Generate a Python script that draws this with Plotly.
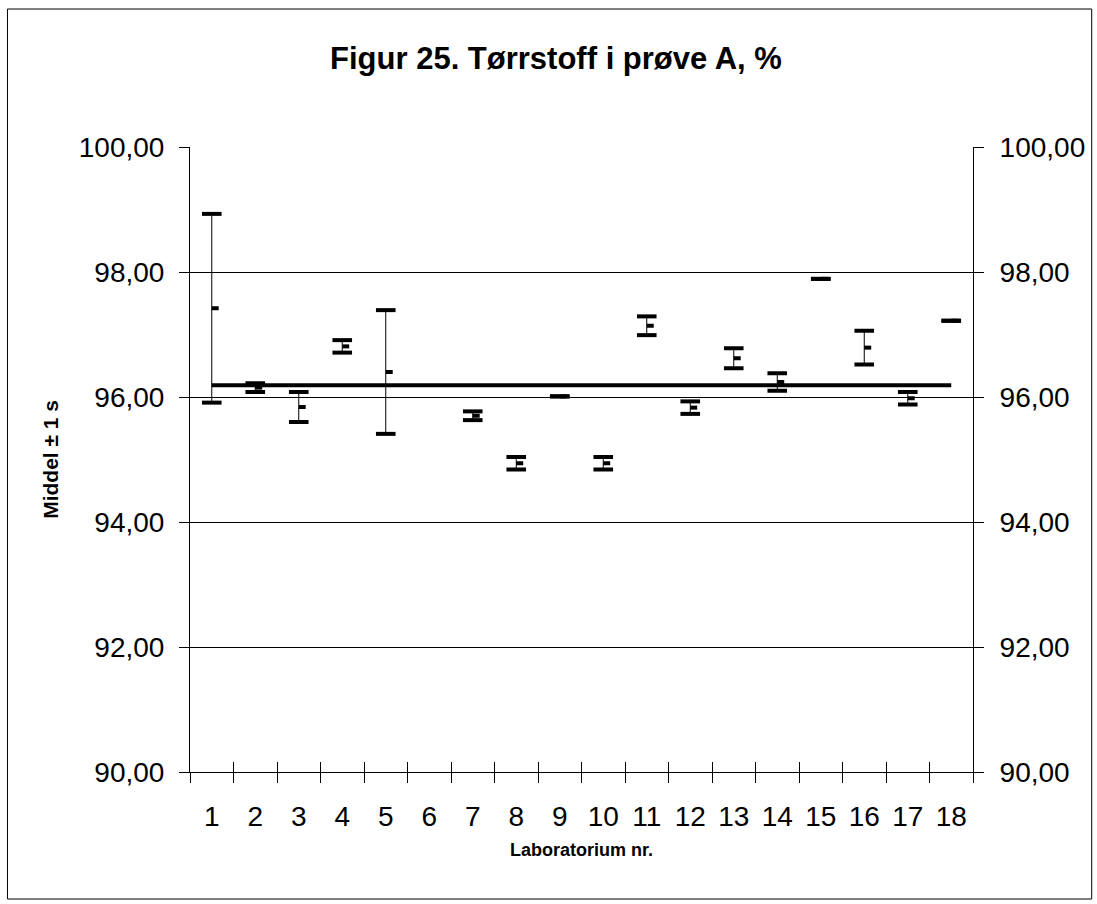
import numpy as np
import plotly.graph_objects as go

# ---- data ----
labs = list(range(1, 19))
tick_labels = [str(i) for i in labs]
means = [97.42, 96.15, 95.84, 96.81, 96.40, None, 95.70, 94.94, 96.01,
         94.94, 97.14, 95.83, 96.62, 96.24, 97.89, 96.79, 95.98, 97.22]
sds = [1.51, 0.07, 0.24, 0.10, 0.99, None, 0.07, 0.10, 0.0,
       0.10, 0.15, 0.10, 0.16, 0.14, 0.0, 0.27, 0.10, 0.0]
grand_mean = 96.19
y_ticks = [90, 92, 94, 96, 98, 100]
y_tick_text = ["90,00", "92,00", "94,00", "96,00", "98,00", "100,00"]

m = np.array([np.nan if v is None else v for v in means], dtype=float)
s = np.array([np.nan if v is None else v for v in sds], dtype=float)
x = np.array(labs, dtype=float)

FONT = "Liberation Sans, Arial, sans-serif"
W, H = 1097, 904
L, R, T, B = 190, 122, 147, 132
PW, PH = W - L - R, H - T - B

fig = go.Figure()

# vertical error lines (thin)
fig.add_trace(go.Scatter(
    x=x, y=m, mode="markers", marker=dict(size=1, color="rgba(0,0,0,0)"),
    error_y=dict(type="data", array=s, visible=True, color="black",
                 thickness=1, width=0),
    showlegend=False, hoverinfo="skip"))

# caps (thick)
for yy in (m + s, m - s):
    fig.add_trace(go.Scatter(
        x=x, y=yy, mode="markers",
        marker=dict(symbol="line-ew", size=14, line=dict(width=4, color="black")),
        showlegend=False, hoverinfo="skip"))

# mean marker: short dash to the right of the centre
fig.add_trace(go.Scatter(
    x=x, y=m, mode="markers", marker=dict(size=1, color="rgba(0,0,0,0)"),
    error_x=dict(type="data", symmetric=False, array=[0.16] * len(labs),
                 arrayminus=[0] * len(labs), visible=True, color="black",
                 thickness=4, width=0),
    showlegend=False, hoverinfo="skip"))

# grand mean line
fig.add_trace(go.Scatter(
    x=[labs[0], labs[-1]], y=[grand_mean, grand_mean], mode="lines",
    line=dict(color="black", width=4), showlegend=False, hoverinfo="skip"))

# invisible helpers for extra axes
fig.add_trace(go.Scatter(x=[labs[0]], y=[grand_mean], xaxis="x2", yaxis="y",
                         mode="markers", marker=dict(opacity=0), showlegend=False, hoverinfo="skip"))
fig.add_trace(go.Scatter(x=[labs[0]], y=[grand_mean], xaxis="x3", yaxis="y",
                         mode="markers", marker=dict(opacity=0), showlegend=False, hoverinfo="skip"))
fig.add_trace(go.Scatter(x=[labs[0]], y=[grand_mean], xaxis="x", yaxis="y2",
                         mode="markers", marker=dict(opacity=0), showlegend=False, hoverinfo="skip"))

xr = [labs[0] - 0.5, labs[-1] + 0.5]
yr = [y_ticks[0], y_ticks[-1]]
tickfont = dict(size=28, family=FONT, color="black")

fig.update_layout(
    width=W, height=H,
    margin=dict(l=L, r=R, t=T, b=B),
    paper_bgcolor="white", plot_bgcolor="white",
    font=dict(family=FONT, color="black"),
    title=dict(text="<b>Figur 25. Tørrstoff i prøve A, %</b>",
               x=556 / W, xanchor="center", y=1 - 58 / H, yanchor="middle",
               font=dict(size=31, family=FONT, color="black")),
    xaxis=dict(range=xr, tickmode="array", tickvals=labs, ticktext=tick_labels,
               ticks="", showgrid=False, zeroline=False,
               showline=True, linecolor="black", linewidth=1,
               tickfont=tickfont, ticklabelstandoff=19),
    xaxis2=dict(range=xr, overlaying="x", anchor="y", side="bottom",
                tickmode="linear", tick0=0.5, dtick=1, ticks="outside",
                ticklen=10, tickcolor="black", showticklabels=False,
                showgrid=False, zeroline=False, showline=False),
    xaxis3=dict(range=xr, overlaying="x", anchor="y", side="bottom",
                tickmode="linear", tick0=0.5, dtick=1, ticks="inside",
                ticklen=10, tickcolor="black", showticklabels=False,
                showgrid=False, zeroline=False, showline=False),
    yaxis=dict(range=yr, tickmode="array", tickvals=y_ticks, ticktext=y_tick_text,
               ticks="outside", ticklen=10, tickcolor="black",
               showgrid=True, gridcolor="black", gridwidth=1, zeroline=False,
               showline=True, linecolor="black", linewidth=1,
               tickfont=tickfont, ticklabelstandoff=9),
    yaxis2=dict(range=yr, overlaying="y", side="right", anchor="x",
                tickmode="array", tickvals=y_ticks, ticktext=y_tick_text,
                ticks="outside", ticklen=10, tickcolor="black",
                showgrid=False, zeroline=False,
                showline=True, linecolor="black", linewidth=1,
                tickfont=tickfont, ticklabelstandoff=10),
    annotations=[
        dict(text="<b>Laboratorium nr.</b>", xref="paper", yref="paper",
             x=0.5, y=(H - B - 850) / PH, xanchor="center", yanchor="middle",
             showarrow=False, font=dict(size=18, family=FONT, color="black")),
        dict(text="<b>Middel ± 1 s</b>", xref="paper", yref="paper",
             x=(50 - L) / PW, y=0.5, xanchor="center", yanchor="middle",
             textangle=-90, showarrow=False,
             font=dict(size=21, family=FONT, color="black")),
    ],
    shapes=[dict(type="rect", xref="paper", yref="paper",
                 x0=(7 - L) / PW, x1=(1094 - L) / PW,
                 y0=(H - B - 899) / PH, y1=(H - B - 9) / PH,
                 line=dict(color="black", width=1), fillcolor="rgba(0,0,0,0)",
                 layer="below")],
)

fig.write_html("out.html", config={"displayModeBar": False},
               post_script="document.body.style.margin='0';"
                           "document.body.style.overflow='hidden';")
